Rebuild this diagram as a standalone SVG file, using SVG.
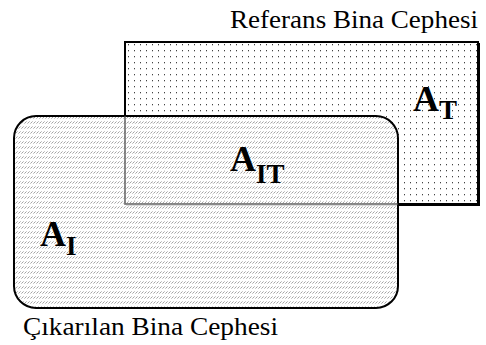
<svg xmlns="http://www.w3.org/2000/svg" width="486" height="345" viewBox="0 0 486 345">
<style>
text{font-family:"Liberation Serif","Times New Roman",Times,"DejaVu Serif",serif;fill:#000}
</style>
<defs>
<pattern id="dots" x="0" y="0" width="6" height="6" patternUnits="userSpaceOnUse">
<rect x="2" y="2" width="1" height="1.3" fill="#444"/>
</pattern>
<pattern id="hatch" x="0" y="0" width="3" height="5" patternUnits="userSpaceOnUse">
<line x1="0.4" y1="3.6" x2="2.6" y2="1.4" stroke="#999" stroke-width="0.9"/>
</pattern>
</defs>
<g id="referans">
<rect x="125" y="42" width="353" height="162" fill="#fff"/>
<rect x="125" y="42" width="353" height="162" fill="url(#dots)"/>
<polyline points="479,43 479,205 126,205" fill="none" stroke="#000" stroke-width="2"/>
<rect x="125" y="42" width="353" height="162" fill="none" stroke="#000" stroke-width="2"/>
</g>
<g id="cikarilan">
<rect x="14" y="116" width="384" height="192" rx="22" ry="22" fill="#fff" fill-opacity="0.85"/>
<rect x="14" y="116" width="384" height="192" rx="22" ry="22" fill="url(#hatch)" stroke="#000" stroke-width="2"/>
</g>
<g id="connectors">
<polyline points="125,116 125,204 398,204" fill="none" stroke="#555" stroke-width="1.5" stroke-opacity="0.8"/>
</g>
<g id="labels">
<text x="230" y="28" font-size="25" textLength="248" lengthAdjust="spacingAndGlyphs">Referans Bina Cephesi</text>
<text x="23" y="335" font-size="25" textLength="255" lengthAdjust="spacingAndGlyphs">Çıkarılan Bina Cephesi</text>
<text font-weight="bold" x="413" y="111" font-size="36">A<tspan font-size="27" dy="8">T</tspan></text>
<text font-weight="bold" x="230" y="171" font-size="36">A<tspan font-size="27" dy="12">IT</tspan></text>
<text font-weight="bold" x="40" y="246" font-size="36">A<tspan font-size="27" dy="9">I</tspan></text>
</g>
</svg>
